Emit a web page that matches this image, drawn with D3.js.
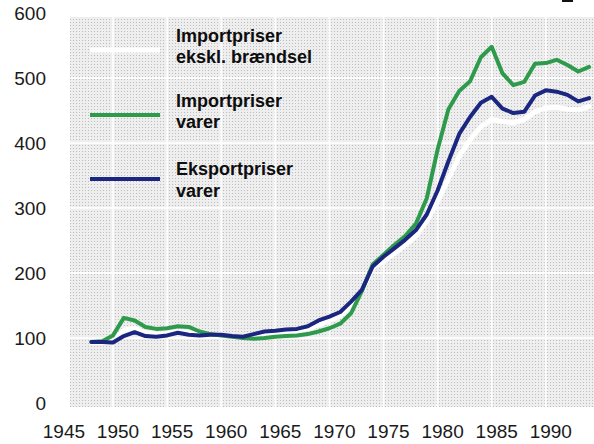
<!DOCTYPE html>
<html>
<head>
<meta charset="utf-8">
<script src="https://cdn.jsdelivr.net/npm/d3@7"></script>
<style>
  html, body { margin: 0; padding: 0; background: #ffffff; }
  svg { display: block; }
  text { font-family: "Liberation Sans", Arial, sans-serif; }
</style>
</head>
<body>
<svg id="chart" width="594" height="444"></svg>
<script>
const years = d3.range(1948, 1995);

const importEksklBraendsel = [
  93, 93, 95, 112, 115, 108, 106, 107, 110, 108, 106, 105,
  104, 102, 101, 103, 106, 108, 110, 111, 114, 120, 127, 134,
  148, 172, 208, 218, 230, 243, 257, 280, 310, 345, 380, 405,
  425, 436, 433, 431, 436, 448, 454, 455, 452, 451, 456
];

const importVarer = [
  94, 95, 104, 131, 127, 117, 114, 115, 118, 117, 110, 106,
  104, 102, 100, 99, 100, 102, 103, 104, 106, 110, 115, 122,
  138, 172, 213, 228, 243, 257, 276, 315, 390, 452, 480, 495,
  532, 548, 507, 489, 494, 522, 523, 528, 520, 510, 517
];

const eksportVarer = [
  94, 94, 93, 103, 109, 103, 102, 104, 108, 105, 104, 105,
  105, 103, 102, 106, 110, 111, 113, 114, 118, 127, 133, 140,
  156, 174, 210, 225, 238, 251, 266, 290, 327, 372, 414, 440,
  462, 471, 453, 446, 448, 473, 481, 479, 474, 464, 469
];

const xTicks = [1945, 1950, 1955, 1960, 1965, 1970, 1975, 1980, 1985, 1990];
const yTicks = [0, 100, 200, 300, 400, 500, 600];

const legendItems = [
  { lines: ["Importpriser", "ekskl. brændsel"], color: "#ffffff" },
  { lines: ["Importpriser", "varer"], color: "#2e9a4c" },
  { lines: ["Eksportpriser", "varer"], color: "#1b2680" }
];

const series = [
  { values: importEksklBraendsel, color: "#ffffff", width: 5 },
  { values: importVarer, color: "#2e9a4c", width: 4 },
  { values: eksportVarer, color: "#1b2680", width: 4 }
];

const svg = d3.select("#chart");

const x = d3.scaleLinear().domain([1950, 1990]).range([113, 545.8]);
const y = d3.scaleLinear().domain([0, 600]).range([403, 13]);

const plotLeft = 70, plotRight = 594, plotTop = 17, plotBottom = 407;

// halftone pattern background
const defs = svg.append("defs");
const pat = defs.append("pattern")
  .attr("id", "dots")
  .attr("width", 3).attr("height", 3)
  .attr("patternUnits", "userSpaceOnUse");
pat.append("rect").attr("width", 3).attr("height", 3).attr("fill", "#eeeeee");
pat.append("rect").attr("x", 1).attr("y", 1).attr("width", 1).attr("height", 1).attr("fill", "#bdbdbd");

svg.append("rect")
  .attr("x", plotLeft).attr("y", plotTop)
  .attr("width", plotRight - plotLeft).attr("height", plotBottom - plotTop)
  .attr("fill", "url(#dots)");

// gridlines
const grid = svg.append("g").attr("stroke", "#ffffff").attr("stroke-opacity", 0.85).attr("stroke-width", 2);
grid.selectAll("line.v")
  .data(xTicks.filter(t => x(t) > plotLeft))
  .join("line")
  .attr("x1", d => x(d)).attr("x2", d => x(d))
  .attr("y1", plotTop).attr("y2", plotBottom);
grid.selectAll("line.h")
  .data(yTicks.filter(t => t > 0 && t < 600))
  .join("line")
  .attr("x1", plotLeft).attr("x2", plotRight)
  .attr("y1", d => y(d)).attr("y2", d => y(d));

// axes (labels only)
const xAxis = d3.axisBottom(x).tickValues(xTicks).tickFormat(d3.format("d")).tickSize(0).tickPadding(0);
const gx = svg.append("g").attr("transform", "translate(4.5, 424)").call(xAxis);
gx.select(".domain").remove();
gx.selectAll("text").attr("font-size", "19px").attr("fill", "#1a1a1a")
  .attr("font-family", "'Liberation Sans', Arial, sans-serif").attr("dy", "0.71em");

const yAxis = d3.axisLeft(y).tickValues(yTicks).tickFormat(d3.format("d")).tickSize(0).tickPadding(0);
const gy = svg.append("g").attr("transform", "translate(46, 0)").call(yAxis);
gy.select(".domain").remove();
gy.selectAll("text").attr("font-size", "19px").attr("fill", "#1a1a1a")
  .attr("font-family", "'Liberation Sans', Arial, sans-serif").attr("dy", "0.36em");

// lines
const line = d3.line()
  .x((d, i) => x(years[i]))
  .y(d => y(d));

svg.append("g").selectAll("path")
  .data(series)
  .join("path")
  .attr("d", d => line(d.values))
  .attr("fill", "none")
  .attr("stroke", d => d.color)
  .attr("stroke-width", d => d.width)
  .attr("stroke-linejoin", "round")
  .attr("stroke-linecap", "round");

// legend
const legend = svg.append("g");
const legendY = [50, 115, 179];
const textY = [[41.7, 63.3], [106.7, 128.3], [175, 196.7]];
legendItems.forEach((item, i) => {
  legend.append("line")
    .attr("x1", 90).attr("x2", 160)
    .attr("y1", legendY[i]).attr("y2", legendY[i])
    .attr("stroke", item.color)
    .attr("stroke-width", i === 0 ? 5 : 4);
  item.lines.forEach((t, j) => {
    legend.append("text")
      .attr("x", 176).attr("y", textY[i][j])
      .attr("font-size", "18px").attr("font-weight", "bold")
      .attr("fill", "#0d0d0d")
      .text(t);
  });
});

// small black mark at top-right (from the scan)
svg.append("rect").attr("x", 562).attr("y", 0).attr("width", 11).attr("height", 2).attr("fill", "#111");
</script>
</body>
</html>
